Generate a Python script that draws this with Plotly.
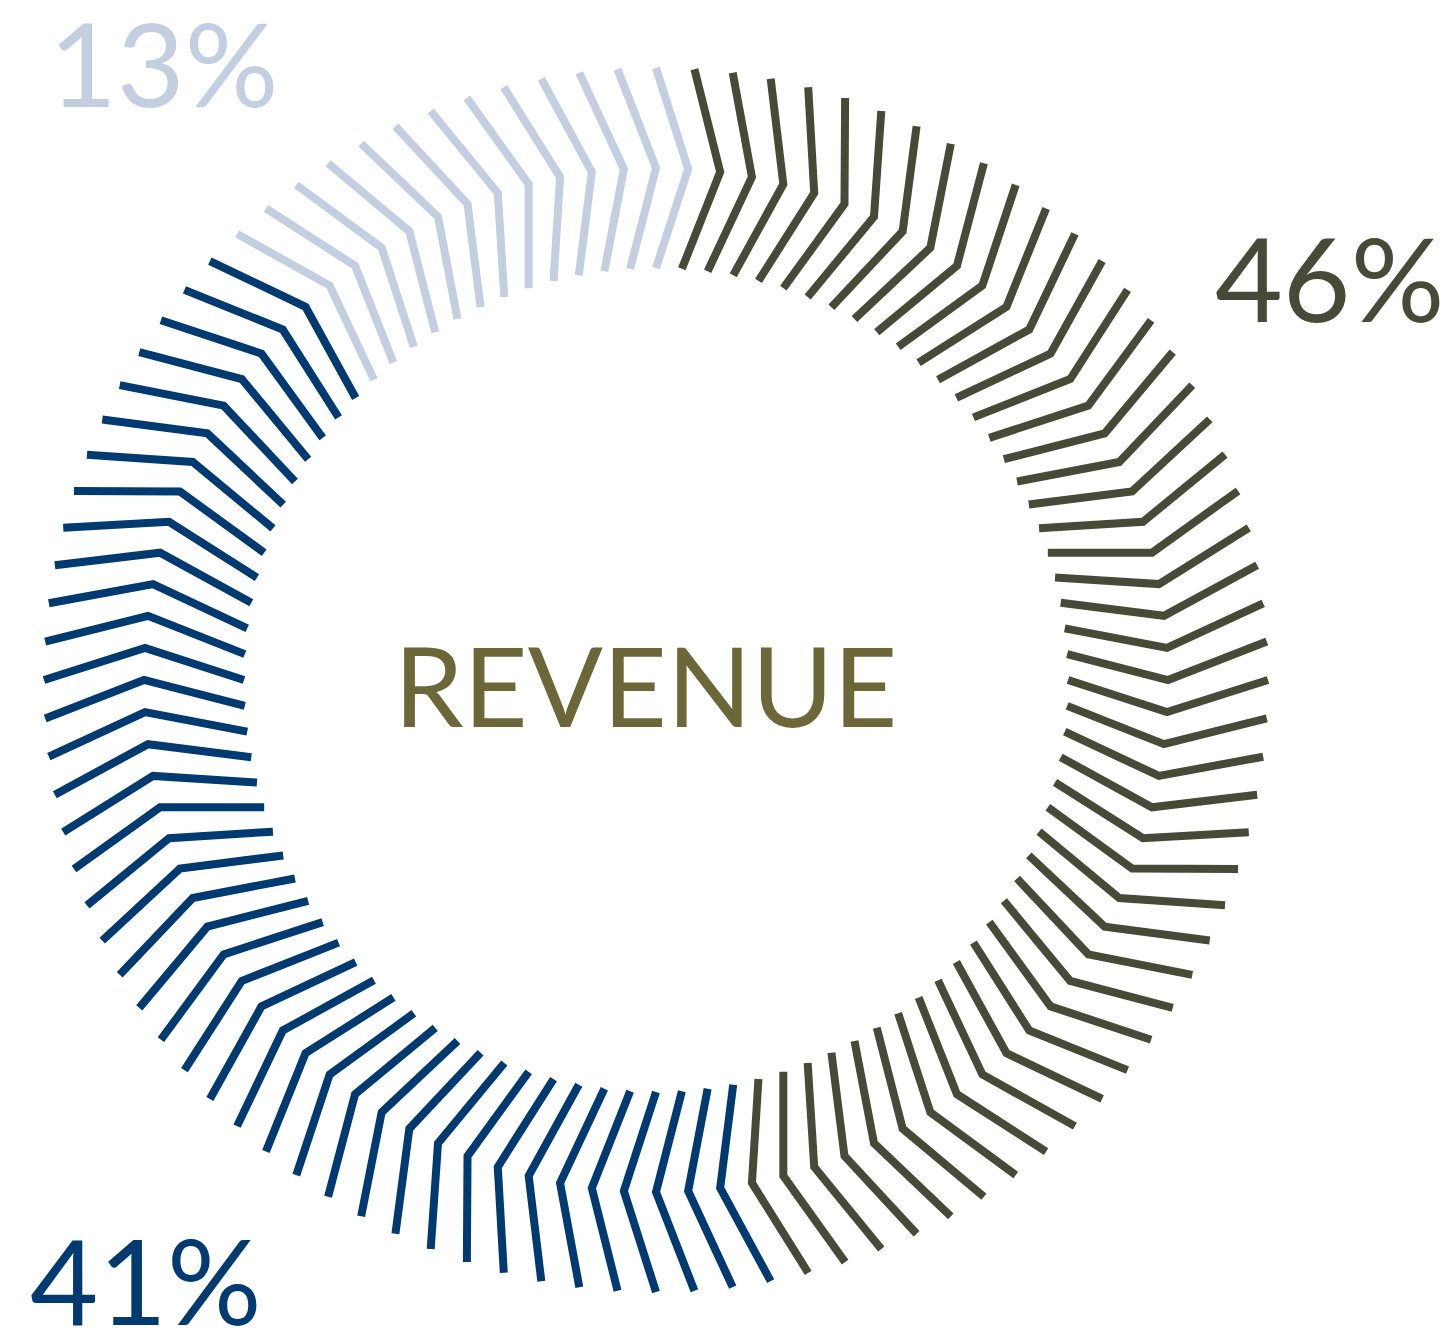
import plotly.graph_objects as go

# Data
segment_labels = ["Dark", "Navy", "Light"]
segment_values = [46, 41, 13]          # percent
segment_colors = ["#454b37", "#013a70", "#c3cee0"]
label_texts = ["46%", "41%", "13%"]
center_text = "REVENUE"

# Geometry (radial units)
R_OUT, R_MID, R_IN = 612, 512, 412
STEP = 360 / sum(segment_values)

fig = go.Figure()
k = 1
for val, col in zip(segment_values, segment_colors):
    r, th = [], []
    for _ in range(val):
        a = k * STEP
        r += [R_OUT, R_MID, R_IN, None]
        th += [a, a + STEP, a, None]
        k += 1
    fig.add_trace(go.Scatterpolar(r=r, theta=th, mode="lines",
                                  line=dict(color=col, width=8),
                                  hoverinfo="skip", showlegend=False,
                                  connectgaps=False))

OFF = 8  # page body margin
W, H = 1456 - 2 * OFF, 1335 - 2 * OFF
cx, cy, R = 656 - OFF, 680 - OFF, 615


def px(x):
    return (x - OFF) / W


def py(y):
    return 1 - (y - OFF) / H


fig.update_layout(
    width=W, height=H,
    margin=dict(l=0, r=0, t=0, b=0),
    paper_bgcolor="white", plot_bgcolor="white",
    polar=dict(
        domain=dict(x=[(cx - R) / W, (cx + R) / W],
                    y=[(H - cy - R) / H, (H - cy + R) / H]),
        bgcolor="white",
        angularaxis=dict(direction="clockwise", rotation=90, visible=False,
                         showgrid=False, showline=False, ticks=""),
        radialaxis=dict(range=[0, R], visible=False, showgrid=False,
                        showline=False, ticks=""),
    ),
    font=dict(family="Lato"),
)

fig.add_annotation(text=center_text, x=px(645), y=py(684), xref="paper", yref="paper",
                   showarrow=False, font=dict(family="Lato", size=111, color="#6c6739"),
                   xanchor="center", yanchor="middle")
fig.add_annotation(text=label_texts[2], x=px(47), y=py(62), xref="paper", yref="paper",
                   showarrow=False, font=dict(family="Lato", size=117, color=segment_colors[2]),
                   xanchor="left", yanchor="middle")
fig.add_annotation(text=label_texts[0], x=px(1447), y=py(277), xref="paper", yref="paper",
                   showarrow=False, font=dict(family="Lato", size=117, color=segment_colors[0]),
                   xanchor="right", yanchor="middle")
fig.add_annotation(text=label_texts[1], x=px(28), y=py(1279), xref="paper", yref="paper",
                   showarrow=False, font=dict(family="Lato", size=118, color=segment_colors[1]),
                   xanchor="left", yanchor="middle")

fig.write_html("out.html", config={"displayModeBar": False})
